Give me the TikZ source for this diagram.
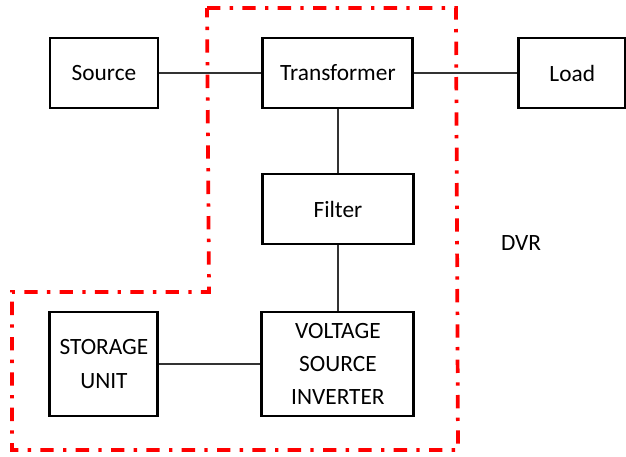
\documentclass[tikz,border=0pt]{standalone}
\usepackage{fontspec}
\setmainfont{Carlito}
\usetikzlibrary{
    positioning,
}
\tikzstyle{block}=[draw,rectangle,line width=2.2pt,minimum height=52.5pt,align=center,inner sep=1pt]
\tikzstyle{tall}=[minimum height=78pt,text depth=-1pt]
\tikzstyle{wire}=[draw=black!80,line width=1.1pt]
\tikzstyle{dvrline}=[draw=red,line width=2.8pt,dash pattern=on 10pt off 7pt on 2.5pt off 7pt]
\tikzset{
    every node/.style={font=\fontsize{17.5}{25}\selectfont}
}

\begin{document}
\begin{tikzpicture}[x=0.75pt,y=-0.75pt]
    \useasboundingbox (0,0) rectangle (626,457);

    % Blocks
    \node[block,minimum width=81pt] (Source) at (104,73) {Source};
    \node[block,minimum width=112.5pt,right=76.5pt of Source] (Transformer) {Transformer};
    \node[block,minimum width=80pt,right=77.3pt of Transformer] (Load) {Load};
    \node[block,minimum width=113pt,below=47.3pt of Transformer] (Filter) {Filter};
    \node[block,tall,minimum width=114pt,below=48.8pt of Filter] (VSI) {VOLTAGE\\SOURCE\\INVERTER};
    \node[block,tall,minimum width=81pt,left=75.8pt of VSI] (Storage) {STORAGE\\UNIT};

    % Wires
    \draw[wire] (Source) -- (Transformer);
    \draw[wire] (Transformer) -- (Load);
    \draw[wire] (Transformer) -- (Filter);
    \draw[wire] (Filter) -- (VSI);
    \draw[wire] (Storage) -- (VSI);

    % DVR boundary
    \draw[dvrline] (207,8) -- (456,8) -- (458,450) -- (12,450) -- (12,292) -- (209,292) -- cycle;
    \node (DVR) at (521,243) {DVR};
\end{tikzpicture}
\end{document}
